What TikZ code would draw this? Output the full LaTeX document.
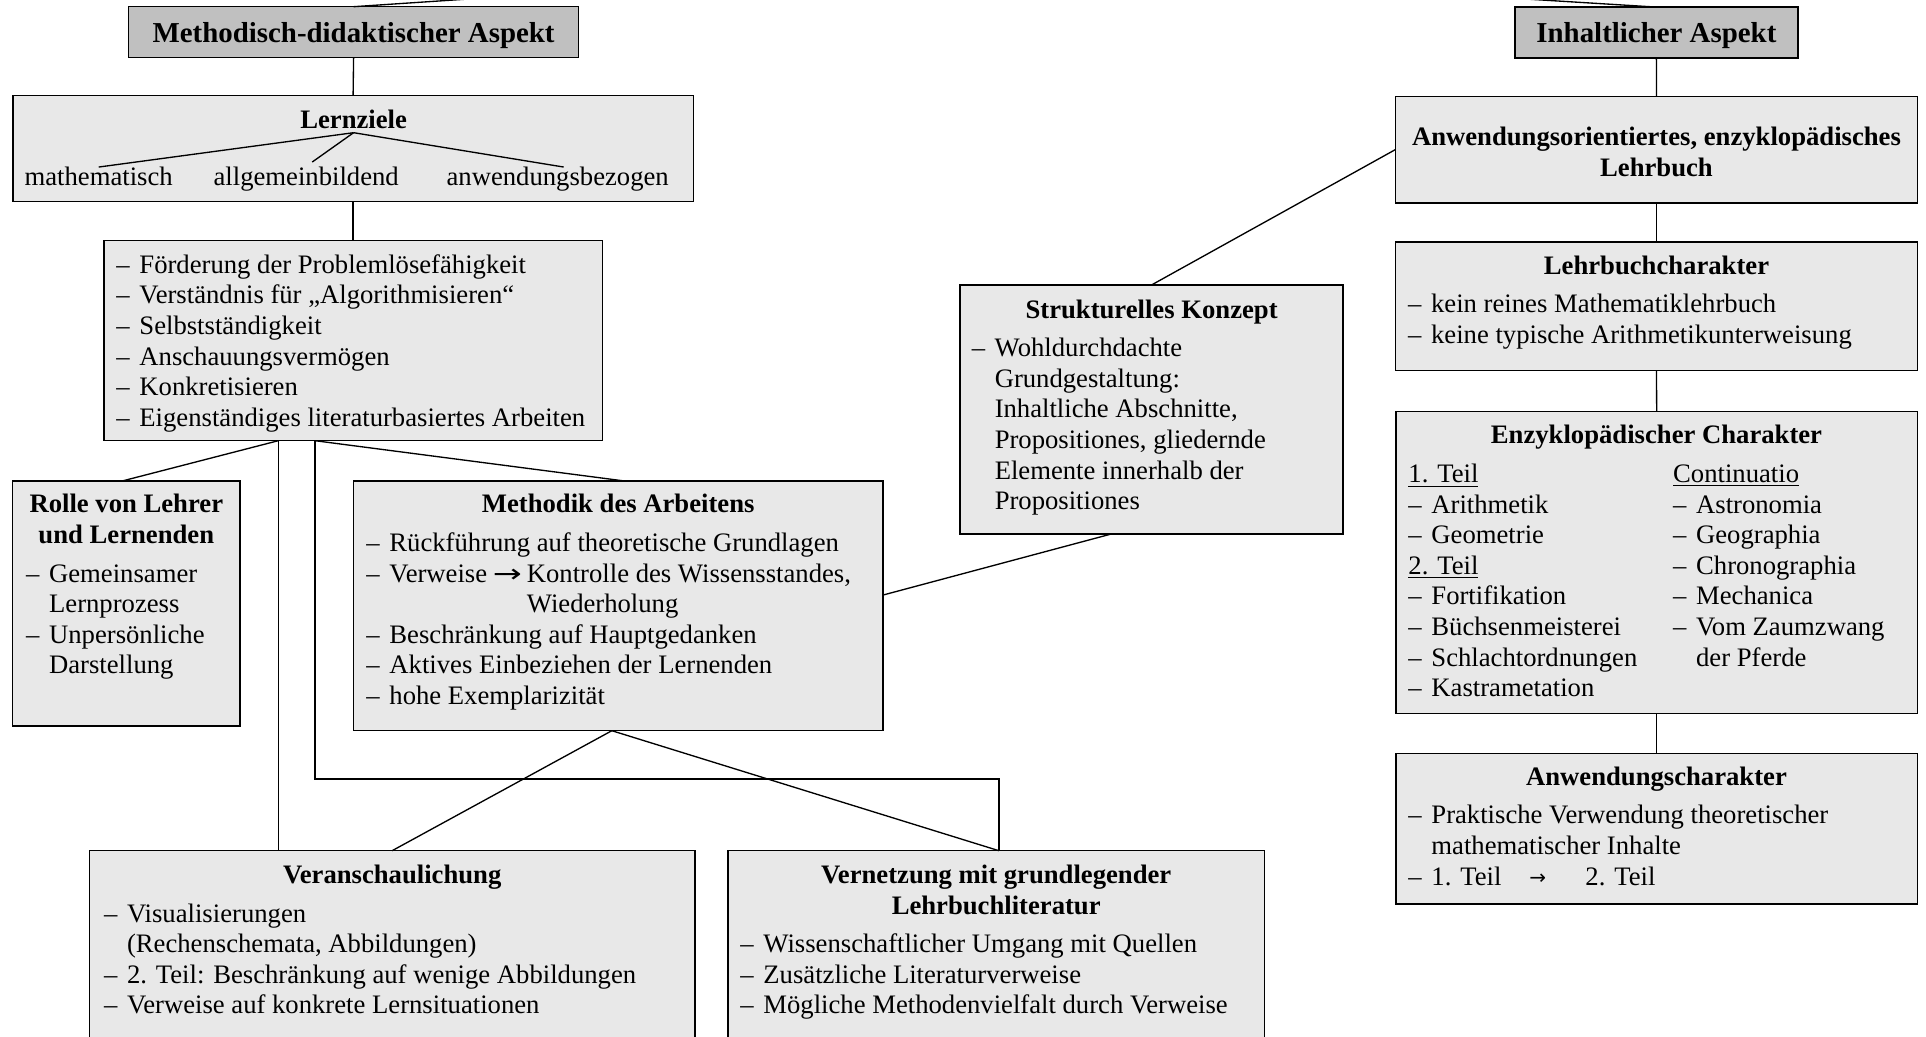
\documentclass[tikz,border=0pt]{standalone}
\usepackage{fontspec}
\usepackage{graphicx}
\setmainfont{Liberation Serif}
\newfontfamily\arrowfont{DejaVu Sans}
\usetikzlibrary{calc}
\definecolor{boxfill}{HTML}{E8E8E8}
\definecolor{headfill}{HTML}{C0C0C0}
% bullet dash with a fixed hanging indent, and the matching indent for continuation lines
\newcommand\dsh{\makebox[10.35pt][l]{–}}
\newcommand\ind{\hspace*{10.35pt}}
% wide arrow used inside the Methodik list
\newcommand\warr{\hspace{2.6pt}\scalebox{1.3}[0.95]{\arrowfont →}\hspace{2.2pt}}
% one text line per list entry: #1 name prefix, #2 left x, #3 first baseline, #4 lines
\newcommand\rows[4]{\foreach \rowtxt [count=\rowno] in {#4}{\node[row] (#1\rowno) at (#2,{#3+30.6*(\rowno-1)}) {\rowtxt};}}
\tikzset{
  sz/.style 2 args={minimum width=#1*0.45pt, minimum height=#2*0.45pt},
  box/.style={draw, line width=0.7pt, fill=boxfill, rectangle, inner sep=0pt, outer sep=0pt, anchor=north west},
  headbox/.style={box, fill=headfill},
  row/.style={anchor=base west, inner sep=0pt, font=\fontsize{12}{13.77}\selectfont},
  word/.style={anchor=base, inner sep=0pt, font=\fontsize{12}{13.77}\selectfont},
  ttl/.style={anchor=base, inner sep=0pt, font=\fontsize{12}{13.77}\selectfont\bfseries},
  headttl/.style={anchor=base, inner sep=0pt, font=\fontsize{13}{15}\selectfont\bfseries},
  conn/.style={draw, line width=0.6pt}
}
\begin{document}
\begin{tikzpicture}[x=0.45pt, y=-0.45pt]
\useasboundingbox (0,0) rectangle (1926,1037);
\clip (0,0) rectangle (1926,1037);

% ---------- boxes ----------
\node[headbox, sz={450}{50.6}]    (meth)     at (128.6,6.7) {};
\node[headbox, sz={282.8}{50.8}]  (inh)      at (1515,7.1) {};
\node[box, sz={680.4}{106}]       (lern)     at (12.9,95.7) {};
\node[box, sz={498.6}{200}]       (list)     at (103.8,240.7) {};
\node[box, sz={227.4}{245}]       (rolle)    at (12.6,481) {};
\node[box, sz={529.2}{249.7}]     (methodik) at (353.6,481) {};
\node[box, sz={605.3}{220}]       (veran)    at (89.5,850.7) {};
\node[box, sz={536.4}{220}]       (vern)     at (728,850.7) {};
\node[box, sz={383}{249}]         (struk)    at (960,285) {};
\node[box, sz={522.3}{106.3}]     (anw)      at (1395.3,96.5) {};
\node[box, sz={522.3}{128.8}]     (lehr)     at (1395.3,241.9) {};
\node[box, sz={521.8}{302}]       (enzy)     at (1395.8,411.3) {};
\node[box, sz={521.8}{150.7}]     (anwc)     at (1395.8,753.3) {};

% ---------- left branch texts ----------
\node[headttl] (methT) at (353.6,42.3) {Methodisch-didaktischer Aspekt};
\node[ttl] (lzt) at (353.6,128.7) {Lernziele};
\node[word] (w1) at (98.7,186) {mathematisch};
\node[word] (w2) at (306.2,186) {allgemeinbildend};
\node[word] (w3) at (557.7,186) {anwendungsbezogen};

\rows{li}{116}{273.3}{\dsh Förderung der Problemlösefähigkeit, \dsh Verständnis für „Algorithmisieren“, \dsh Selbstständigkeit, \dsh Anschauungsvermögen, \dsh Konkretisieren, \dsh Eigenständiges literaturbasiertes Arbeiten}

\node[ttl] (rolT1) at (126.3,513) {Rolle von Lehrer};
\node[ttl] (rolT2) at (126.3,543.6) {und Lernenden};
\rows{ro}{25.7}{582.1}{\dsh Gemeinsamer, \ind Lernprozess, \dsh Unpersönliche, \ind Darstellung}

\node[ttl] (mdT) at (618.2,513) {Methodik des Arbeitens};
\rows{md}{366}{551.5}{\dsh Rückführung auf theoretische Grundlagen, {\dsh Verweise\warr Kontrolle des Wissensstandes,}, {\ind\phantom{Verweise\warr}Wiederholung}, \dsh Beschränkung auf Hauptgedanken, \dsh Aktives Einbeziehen der Lernenden, \dsh hohe Exemplarizität}

\node[ttl] (vaT) at (392.2,883.5) {Veranschaulichung};
\rows{va}{103.6}{922}{\dsh Visualisierungen, {\ind(Rechenschemata, Abbildungen)}, \dsh 2. Teil: Beschränkung auf wenige Abbildungen, \dsh Verweise auf konkrete Lernsituationen}

\node[ttl] (vnT1) at (996.2,883.5) {Vernetzung mit grundlegender};
\node[ttl] (vnT2) at (996.2,914.1) {Lehrbuchliteratur};
\rows{vn}{740}{952.6}{\dsh Wissenschaftlicher Umgang mit Quellen, \dsh Zusätzliche Literaturverweise, \dsh Mögliche Methodenvielfalt durch Verweise}

\node[ttl] (skT) at (1151.6,318.5) {Strukturelles Konzept};
\rows{sk}{971.3}{356.8}{\dsh Wohldurchdachte, \ind Grundgestaltung:, {\ind Inhaltliche Abschnitte,}, {\ind Propositiones, gliedernde}, \ind Elemente innerhalb der, \ind Propositiones}

% ---------- right branch texts ----------
\node[headttl] (inhT) at (1656.4,42.3) {Inhaltlicher Aspekt};
\node[ttl] (anwT1) at (1656.5,145.7) {Anwendungsorientiertes, enzyklopädisches};
\node[ttl] (anwT2) at (1656.5,176.3) {Lehrbuch};

\node[ttl] (lhT) at (1656.5,274.8) {Lehrbuchcharakter};
\rows{lh}{1407.7}{313}{\dsh kein reines Mathematiklehrbuch, \dsh keine typische Arithmetikunterweisung}

\node[ttl] (ezT) at (1656.5,443.5) {Enzyklopädischer Charakter};
\rows{ezl}{1408}{482.5}{\underline{1. Teil}, \dsh Arithmetik, \dsh Geometrie, \underline{2. Teil}, \dsh Fortifikation, \dsh Büchsenmeisterei, \dsh Schlachtordnungen, \dsh Kastrametation}
\rows{ezr}{1672.7}{482.5}{\underline{Continuatio}, \dsh Astronomia, \dsh Geographia, \dsh Chronographia, \dsh Mechanica, \dsh Vom Zaumzwang, \ind der Pferde}

\node[ttl] (acT) at (1656.5,785.6) {Anwendungscharakter};
\rows{ac}{1408}{823.8}{\dsh Praktische Verwendung theoretischer, \ind mathematischer Inhalte, \dsh 1. Teil}
\node[row, font=\fontsize{9}{9}\arrowfont] (acArr) at (1529,884) {→};
\node[row] (ac2) at (1585,885) {2. Teil};

% ---------- connection points ----------
\coordinate (topL) at (484,-2);
\coordinate (topR) at (1509,-2);
\coordinate (listA) at ($(list.south west)!0.35!(list.south east)$);
\coordinate (listB) at ($(list.south west)!0.4236!(list.south east)$);
\coordinate (railY) at (0,779);
\coordinate (rolTop) at ($(rolle.north west)!0.482!(rolle.north east)$);
\coordinate (mdTop) at ($(methodik.north west)!0.512!(methodik.north east)$);
\coordinate (mdBot) at ($(methodik.south west)!0.488!(methodik.south east)$);
\coordinate (vnTop) at ($(vern.north west)!0.505!(vern.north east)$);
\coordinate (mR) at ($(methodik.north east)!0.457!(methodik.south east)$);
\coordinate (sB) at ($(struk.south west)!0.395!(struk.south east)$);

% ---------- connectors ----------
\draw[conn] (meth.north) -- (topL);
\draw[conn] (meth.south) -- (lern.north);
\draw[conn] ($(lzt.base)+(0,4)$) -- (w1.north);
\draw[conn] ($(lzt.base)+(0,4)$) -- ($(w2.north)+(6,-5)$);
\draw[conn] ($(lzt.base)+(0,4)$) -- ($(w3.north)+(6,0)$);
\draw[conn] (lern.south) -- (list.north);
\draw[conn] (listA) -- (rolTop);
\draw[conn] (listA) -- (listA |- veran.north);
\draw[conn] (listB) -- (mdTop);
\draw[conn] (listB) |- (vnTop |- railY) -- (vnTop);
\draw[conn] (mdBot) -- (veran.north);
\draw[conn] (mdBot) -- (vnTop);
\draw[conn] (mR) -- (sB);
\draw[conn] (struk.north) -- (anw.west);
\draw[conn] (inh.north) -- (topR);
\draw[conn] (inh.south) -- (anw.north);
\draw[conn] (anw.south) -- (lehr.north);
\draw[conn] (lehr.south) -- (enzy.north);
\draw[conn] (enzy.south) -- (anwc.north);
\end{tikzpicture}
\end{document}
